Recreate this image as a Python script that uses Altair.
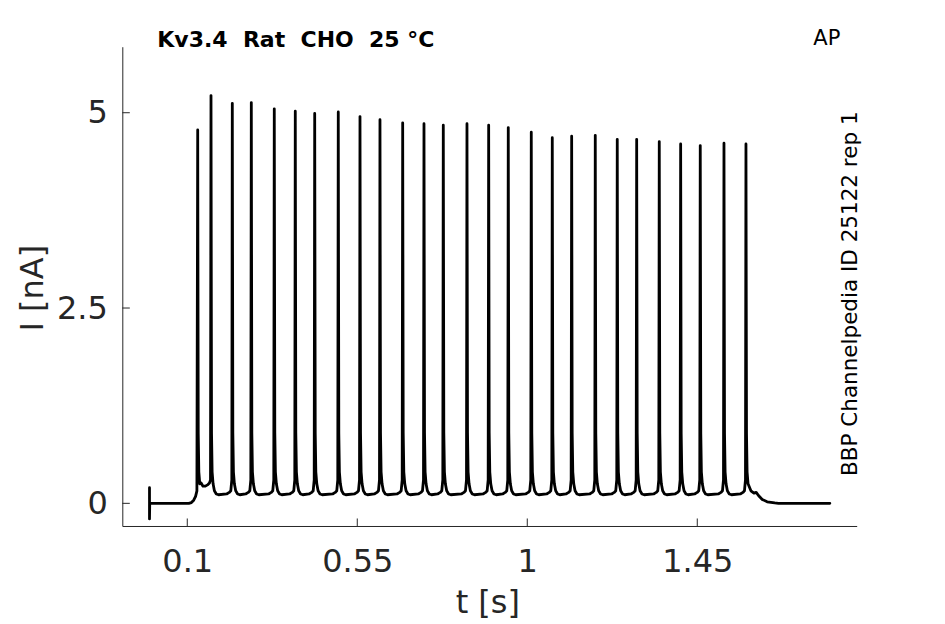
import altair as alt
import pandas as pd

# ---- values ----
spike_t = [0.1276, 0.1628, 0.2192, 0.2695, 0.3303, 0.3859, 0.4373, 0.4997, 0.5572,
           0.6101, 0.6702, 0.7266, 0.7777, 0.8404, 0.8978, 0.9497, 1.0106, 1.0662,
           1.1175, 1.1800, 1.2382, 1.2896, 1.3494, 1.4060, 1.4579, 1.5207, 1.5789]
spike_peak = [4.78, 5.22, 5.12, 5.13, 5.05, 5.02, 4.99, 5.01, 4.95, 4.91, 4.87, 4.86,
              4.84, 4.86, 4.84, 4.81, 4.75, 4.68, 4.70, 4.71, 4.66, 4.66, 4.63, 4.60,
              4.58, 4.61, 4.60]
gap_trough = [0.21, 0.11, 0.11, 0.11, 0.11, 0.11, 0.11, 0.11, 0.11, 0.11, 0.11, 0.11,
              0.11, 0.11, 0.11, 0.11, 0.11, 0.11, 0.11, 0.11, 0.11, 0.11, 0.11, 0.11,
              0.11, 0.11]
pre_level = 0.16

# onset of the trace (artifact at t=0, baseline, rise before first spike)
start_t = [0.0, 0.0, 0.0, 0.0006, 0.104, 0.111, 0.117, 0.122, 0.1255]
start_I = [0.0, 0.2, -0.2, 0.0, 0.0, 0.01, 0.04, 0.09, 0.16]
# tail after the last spike
end_t = [1.592, 1.600, 1.606, 1.612, 1.622, 1.635, 1.655, 1.665, 1.801]
end_I = [0.16, 0.13, 0.14, 0.10, 0.05, 0.02, 0.005, 0.0, 0.0]

# spike shape (offsets in s from the peak)
fall_dt = [0.0014, 0.003, 0.0055, 0.009, 0.014, 0.02]
rise_dt = [-0.015, -0.008, -0.004, -0.0013]

x_ticks = [0.1, 0.55, 1, 1.45]
y_ticks = [0, 2.5, 5]

# ---- build the trace table from the values above ----
ts, Is = list(start_t), list(start_I)
n = len(spike_t)
for k in range(n):
    t, p = spike_t[k], spike_peak[k]
    ts.append(t); Is.append(p)
    if k < n - 1:
        v = gap_trough[k]
        tn = spike_t[k + 1]
        gap = tn - t
        fall_vals = [0.9, 0.4, 0.25, v + 0.05, v + 0.01, v]
        for dt, val in zip(fall_dt, fall_vals):
            if dt < gap * 0.55:
                ts.append(t + dt); Is.append(max(val, v))
        rise_vals = [v + 0.01, v + 0.03, max(pre_level, v + 0.05), 0.3]
        for dt, val in zip(rise_dt, rise_vals):
            if -dt < gap * 0.45:
                ts.append(tn + dt); Is.append(val)
    else:
        for dt, val in zip(fall_dt[:3], [0.9, 0.4, 0.25]):
            ts.append(t + dt); Is.append(val)
ts += end_t
Is += end_I

trace = pd.DataFrame({"t": ts, "I": Is, "i": range(len(ts))})
xt = pd.DataFrame({"v": x_ticks})
yt = pd.DataFrame({"v": y_ticks})

W, H = 734.4, 479.3
AX = "#262626"
FONT = "DejaVu Sans"

xscale = alt.Scale(domain=[-0.072, 1.872], nice=False, zero=False)
yscale = alt.Scale(domain=[-0.29, 5.845], nice=False, zero=False)
xaxis = alt.Axis(title="t [s]", values=x_ticks, labelExpr="'' + datum.value", ticks=False,
                 labelPadding=46, labelBaseline="alphabetic",
                 titleX=365, titleY=87, titleBaseline="alphabetic")
yaxis = alt.Axis(title="I [nA]", values=y_ticks, labelExpr="'' + datum.value", ticks=False,
                 labelPadding=15,
                 titleX=-80, titleY=241, titleBaseline="alphabetic")

line = alt.Chart(trace).mark_line(
    color="black", strokeWidth=2.8, strokeJoin="round", strokeCap="round"
).encode(
    x=alt.X("t:Q", scale=xscale, axis=xaxis),
    y=alt.Y("I:Q", scale=yscale, axis=yaxis),
    order="i:Q",
)

xtick_rules = alt.Chart(xt).mark_rule(color=AX, strokeWidth=1).encode(
    x=alt.X("v:Q", scale=xscale, axis=xaxis),
    y=alt.value(H), y2=alt.value(H - 7.5),
)
ytick_rules = alt.Chart(yt).mark_rule(color=AX, strokeWidth=1).encode(
    y=alt.Y("v:Q", scale=yscale, axis=yaxis),
    x=alt.value(0), x2=alt.value(7.5),
)

title_txt = alt.Chart(pd.DataFrame({"s": ["Kv3.4\u00a0\u00a0Rat\u00a0\u00a0CHO\u00a0\u00a025 °C"]})).mark_text(
    font=FONT, fontSize=22, fontWeight="bold", align="left", baseline="alphabetic", color="black"
).encode(text="s:N", x=alt.value(35), y=alt.value(0))

ap_txt = alt.Chart(pd.DataFrame({"s": ["AP"]})).mark_text(
    font=FONT, fontSize=21, align="right", baseline="alphabetic", color="black"
).encode(text="s:N", x=alt.value(718), y=alt.value(-1.5))

id_txt = alt.Chart(pd.DataFrame({"s": ["BBP Channelpedia ID 25122 rep 1"]})).mark_text(
    font=FONT, fontSize=21.5, align="center", baseline="alphabetic", angle=270, color="black"
).encode(text="s:N", x=alt.value(W), y=alt.value(247))

chart = alt.layer(line, xtick_rules, ytick_rules, title_txt, ap_txt, id_txt).properties(
    width=W, height=H,
    autosize=alt.AutoSizeParams(type="none"),
    padding={"left": 114.3, "top": 38.7, "right": 80, "bottom": 98},
    background="white",
).configure_view(stroke=None).configure_axis(
    grid=False, domainColor=AX, domainWidth=1,
    labelFont=FONT, labelFontSize=32, labelColor=AX,
    titleFont=FONT, titleFontSize=32, titleFontWeight="normal", titleColor=AX,
)

chart.save("out.html", embed_options={"renderer": "svg", "actions": False})
